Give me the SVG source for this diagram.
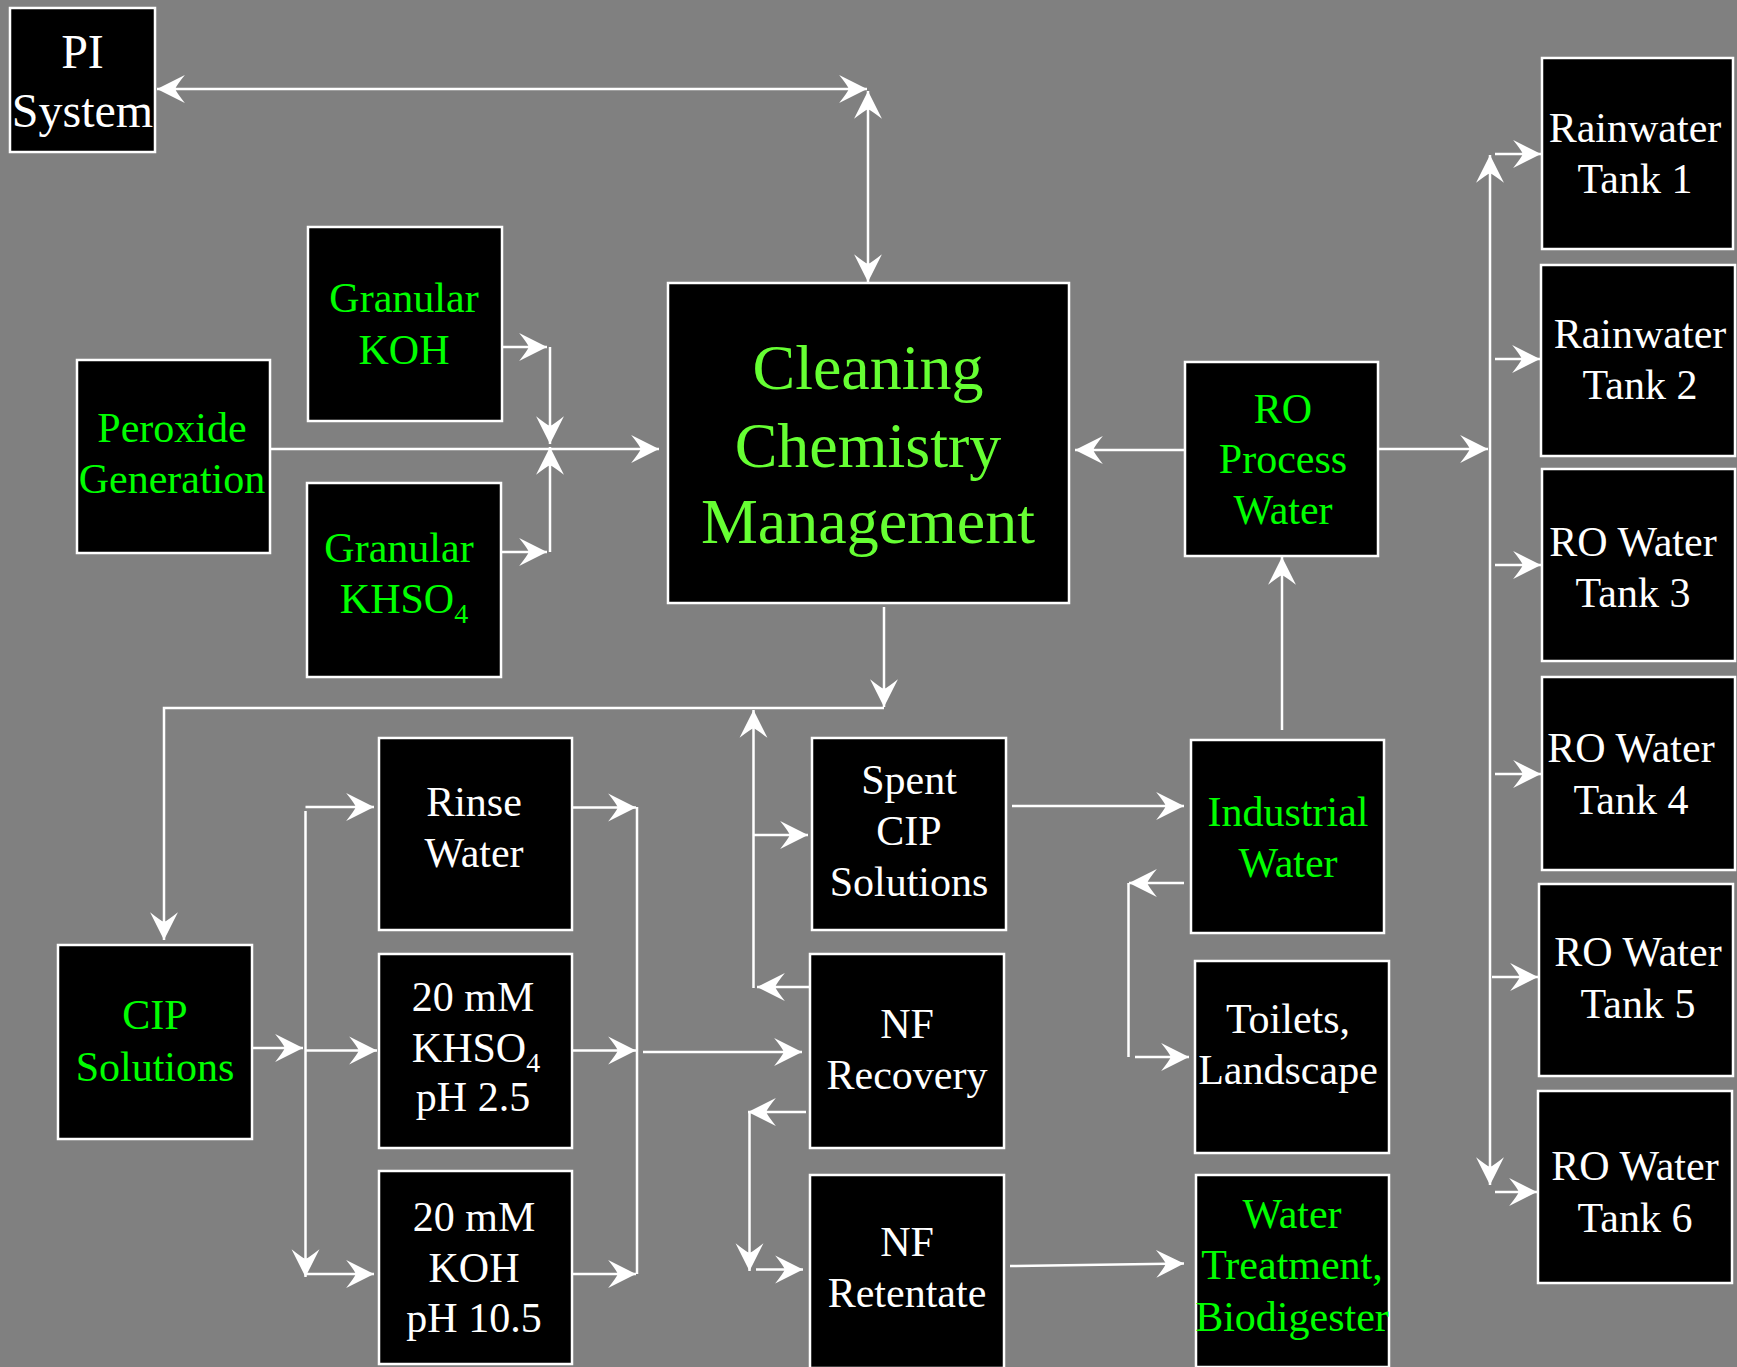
<svg xmlns="http://www.w3.org/2000/svg" width="1737" height="1367" viewBox="0 0 1737 1367">
  <style>
    .box { fill: #000; stroke: #fff; stroke-width: 2.5; }
    .t { font-family: "Liberation Serif", "Times New Roman", serif; font-size: 42px; text-anchor: middle; fill: #fff; }
    .g { fill: #00ff00; }
    .big { font-size: 64px; fill: #66ff33; }
    .pi { font-size: 48px; }
    .sub { font-size: 28px; }
    .ln { fill: none; stroke: #fff; stroke-width: 2.5; }
    .a { marker-end: url(#head); }
    .aa { marker-start: url(#head); marker-end: url(#head); }
  </style>
  <defs>
    <!-- swept-back arrowhead, tip at origin -->
    <marker id="head" markerUnits="userSpaceOnUse" markerWidth="30" markerHeight="30" viewBox="-27 -14 28 28" refX="0" refY="0" orient="auto-start-reverse" overflow="visible">
      <path d="M0,0 L-26,-13 Q-18,-3 -17,0 Q-18,3 -26,13 Z" fill="#fff"/>
    </marker>
  </defs>

  <rect width="1737" height="1367" fill="#808080"/>

  <!-- connectors -->
  <g id="connectors">
    <path class="ln aa" d="M157,89 H867"/>
    <path class="ln aa" d="M868,91 V282"/>
    <path class="ln a" d="M270,449 H659"/>
    <path class="ln a" d="M502,347 H547"/>
    <path class="ln a" d="M550,347 V444"/>
    <path class="ln a" d="M501,552 H547"/>
    <path class="ln a" d="M550,552 V447"/>
    <path class="ln a" d="M1185,450 H1075"/>
    <path class="ln a" d="M1378,449 H1488"/>
    <path class="ln aa" d="M1490,155 V1185"/>
    <path class="ln a" d="M1495,154 H1541"/>
    <path class="ln a" d="M1495,359 H1540"/>
    <path class="ln a" d="M1495,565 H1541"/>
    <path class="ln a" d="M1495,774 H1541"/>
    <path class="ln a" d="M1492,977 H1538"/>
    <path class="ln a" d="M1495,1192 H1537"/>
    <path class="ln a" d="M884,607 V707"/>
    <path class="ln a" d="M884,708 H164 V940"/>
    <path class="ln a" d="M812,987 H757"/>
    <path class="ln a" d="M753.5,988 V710"/>
    <path class="ln a" d="M753.5,835 H808"/>
    <path class="ln a" d="M252,1048 H303"/>
    <path class="ln a" d="M305.5,811 V1277"/>
    <path class="ln a" d="M305.5,807 H374"/>
    <path class="ln a" d="M305.5,1050.5 H377"/>
    <path class="ln a" d="M305.5,1274 H374"/>
    <path class="ln a" d="M572,807.5 H636"/>
    <path class="ln a" d="M572,1050.5 H636"/>
    <path class="ln a" d="M572,1274 H636"/>
    <path class="ln" d="M637,807 V1274"/>
    <path class="ln a" d="M643,1052 H802"/>
    <path class="ln a" d="M806,1112 H748"/>
    <path class="ln a" d="M749.5,1112 V1271"/>
    <path class="ln a" d="M756,1269.5 H803"/>
    <path class="ln a" d="M1012,806 H1184"/>
    <path class="ln a" d="M1184,883 H1129"/>
    <path class="ln" d="M1128.5,883 V1057"/>
    <path class="ln a" d="M1135,1057 H1189"/>
    <path class="ln a" d="M1010,1266 L1184,1263.5"/>
    <path class="ln a" d="M1282,730 V557"/>
  </g>

  <g id="pi-system">
    <rect class="box" x="10" y="8" width="145" height="144"/>
    <text class="t pi" x="82.5" y="68">PI</text>
    <text class="t pi" x="82.5" y="127">System</text>
  </g>

  <g id="granular-koh">
    <rect class="box" x="308" y="227" width="194" height="194"/>
    <text class="t g" x="404" y="312">Granular</text>
    <text class="t g" x="404" y="364">KOH</text>
  </g>

  <g id="peroxide-generation">
    <rect class="box" x="77" y="360" width="193" height="193"/>
    <text class="t g" x="172" y="442">Peroxide</text>
    <text class="t g" x="172" y="493">Generation</text>
  </g>

  <g id="granular-khso4">
    <rect class="box" x="307" y="483" width="194" height="194"/>
    <text class="t g" x="399" y="562">Granular</text>
    <text class="t g" x="404" y="613">KHSO<tspan class="sub" dy="10">4</tspan></text>
  </g>

  <g id="cleaning-chemistry">
    <rect class="box" x="668" y="283" width="401" height="320"/>
    <text class="t big" x="868" y="389">Cleaning</text>
    <text class="t big" x="868" y="467">Chemistry</text>
    <text class="t big" x="868" y="543">Management</text>
  </g>

  <g id="ro-process-water">
    <rect class="box" x="1185" y="362" width="193" height="194"/>
    <text class="t g" x="1283" y="423">RO</text>
    <text class="t g" x="1283" y="473">Process</text>
    <text class="t g" x="1283" y="524">Water</text>
  </g>

  <g id="rainwater-tank-1">
    <rect class="box" x="1542" y="58" width="191" height="191"/>
    <text class="t" x="1635" y="142">Rainwater</text>
    <text class="t" x="1635" y="193">Tank 1</text>
  </g>

  <g id="rainwater-tank-2">
    <rect class="box" x="1541" y="265" width="194" height="191"/>
    <text class="t" x="1640" y="348">Rainwater</text>
    <text class="t" x="1640" y="399">Tank 2</text>
  </g>

  <g id="ro-water-tank-3">
    <rect class="box" x="1542" y="469" width="193" height="192"/>
    <text class="t" x="1633" y="556">RO Water</text>
    <text class="t" x="1633" y="607">Tank 3</text>
  </g>

  <g id="ro-water-tank-4">
    <rect class="box" x="1542" y="677" width="193" height="193"/>
    <text class="t" x="1631" y="762">RO Water</text>
    <text class="t" x="1631" y="814">Tank 4</text>
  </g>

  <g id="ro-water-tank-5">
    <rect class="box" x="1539" y="884" width="194" height="192"/>
    <text class="t" x="1638" y="966">RO Water</text>
    <text class="t" x="1638" y="1018">Tank 5</text>
  </g>

  <g id="ro-water-tank-6">
    <rect class="box" x="1538" y="1091" width="194" height="192"/>
    <text class="t" x="1635" y="1180">RO Water</text>
    <text class="t" x="1635" y="1232">Tank 6</text>
  </g>

  <g id="cip-solutions">
    <rect class="box" x="58" y="945" width="194" height="194"/>
    <text class="t g" x="155" y="1029">CIP</text>
    <text class="t g" x="155" y="1081">Solutions</text>
  </g>

  <g id="rinse-water">
    <rect class="box" x="379" y="738" width="193" height="192"/>
    <text class="t" x="474" y="816">Rinse</text>
    <text class="t" x="474" y="867">Water</text>
  </g>

  <g id="khso4-solution">
    <rect class="box" x="379" y="954" width="193" height="194"/>
    <text class="t" x="473" y="1011">20 mM</text>
    <text class="t" x="476" y="1062">KHSO<tspan class="sub" dy="10">4</tspan></text>
    <text class="t" x="473" y="1111">pH 2.5</text>
  </g>

  <g id="koh-solution">
    <rect class="box" x="379" y="1171" width="193" height="193"/>
    <text class="t" x="474" y="1231">20 mM</text>
    <text class="t" x="474" y="1282">KOH</text>
    <text class="t" x="474" y="1332">pH 10.5</text>
  </g>

  <g id="spent-cip">
    <rect class="box" x="812" y="738" width="194" height="192"/>
    <text class="t" x="909" y="794">Spent</text>
    <text class="t" x="909" y="845">CIP</text>
    <text class="t" x="909" y="896">Solutions</text>
  </g>

  <g id="nf-recovery">
    <rect class="box" x="810" y="954" width="194" height="194"/>
    <text class="t" x="907" y="1038">NF</text>
    <text class="t" x="907" y="1089">Recovery</text>
  </g>

  <g id="nf-retentate">
    <rect class="box" x="810" y="1175" width="194" height="193"/>
    <text class="t" x="907" y="1256">NF</text>
    <text class="t" x="907" y="1307">Retentate</text>
  </g>

  <g id="industrial-water">
    <rect class="box" x="1191" y="740" width="193" height="193"/>
    <text class="t g" x="1288" y="826">Industrial</text>
    <text class="t g" x="1288" y="877">Water</text>
  </g>

  <g id="toilets-landscape">
    <rect class="box" x="1195" y="961" width="194" height="192"/>
    <text class="t" x="1288" y="1033">Toilets,</text>
    <text class="t" x="1288" y="1084">Landscape</text>
  </g>

  <g id="water-treatment">
    <rect class="box" x="1196" y="1175" width="193" height="192"/>
    <text class="t g" x="1292" y="1228">Water</text>
    <text class="t g" x="1292" y="1279">Treatment,</text>
    <text class="t g" x="1292" y="1331">Biodigester</text>
  </g>
</svg>
